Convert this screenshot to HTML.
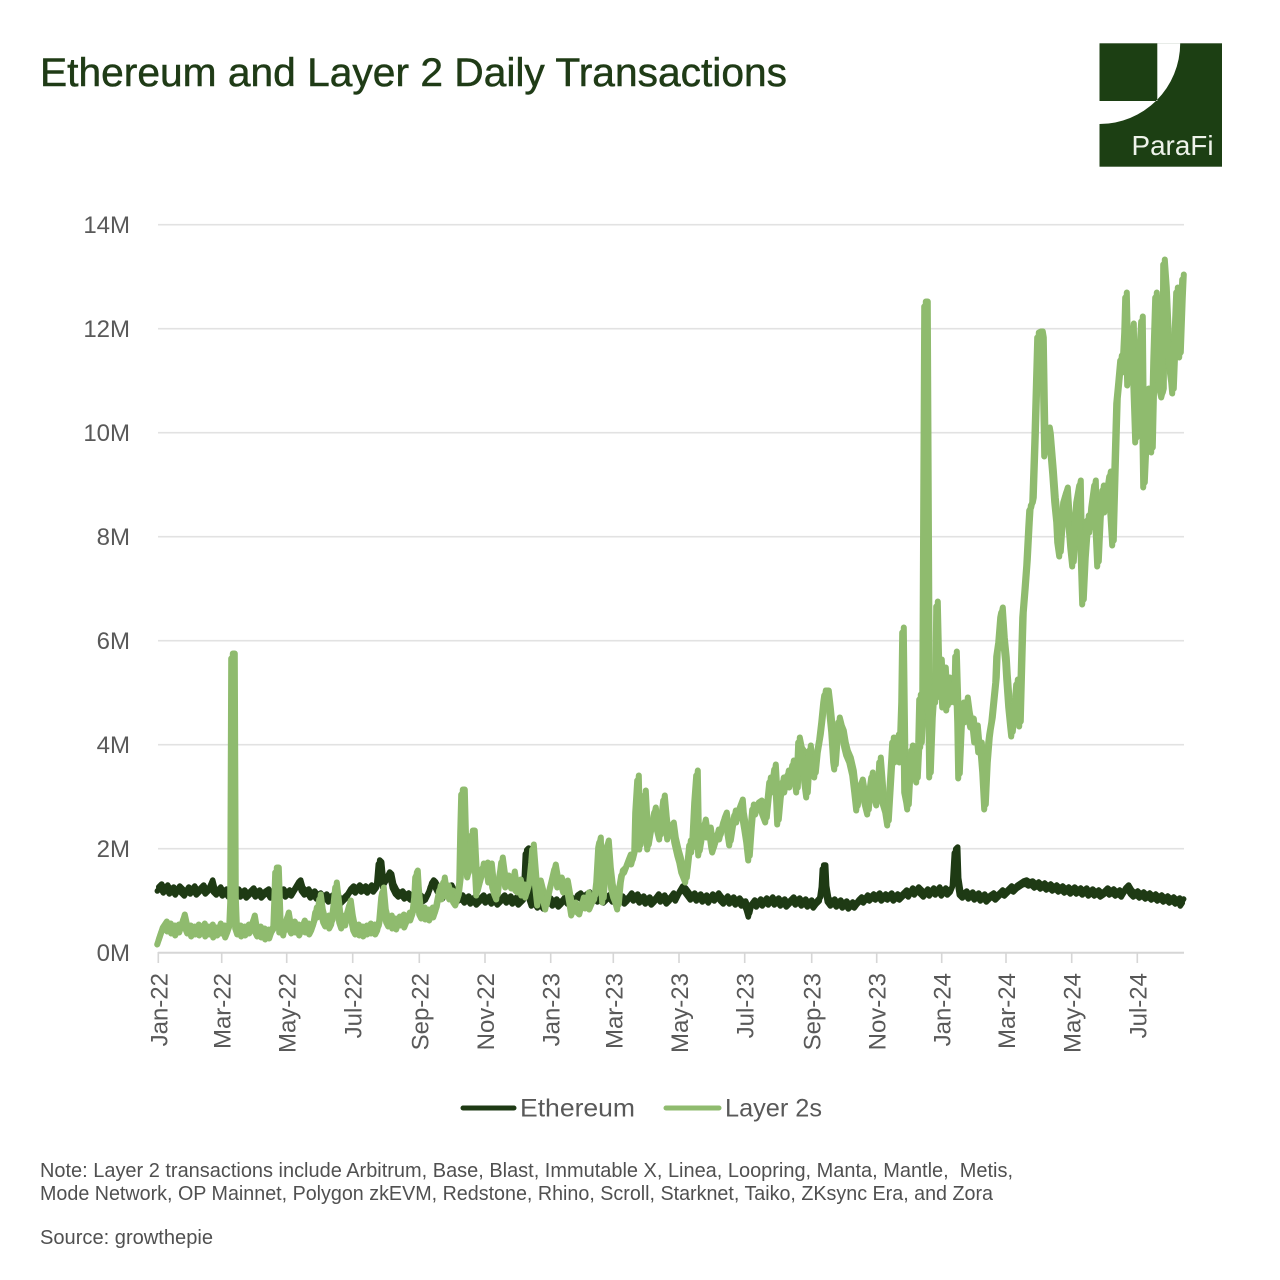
<!DOCTYPE html>
<html>
<head>
<meta charset="utf-8">
<style>
html,body{margin:0;padding:0;background:#ffffff;}
svg{display:block;}
text{font-family:"Liberation Sans",Arial,sans-serif;}
</style>
</head>
<body>
<svg width="1280" height="1280" viewBox="0 0 1280 1280" xmlns="http://www.w3.org/2000/svg">
<defs>
<polyline id="eth" fill="none" stroke="#1e3a14" stroke-width="5.5" stroke-linejoin="round" stroke-linecap="round" points="158,889 161,886 164,891 167,887 170,892 173,889 176,893 179,888 182,891 185,894 188,889 191,892 194,888 197,893 200,890 203,887 206,892 209,889 212,882 214,890 217,893 220,889 223,894 226,891 229,895 232,890 235,894 238,891 241,895 244,892 247,896 250,893 253,890 256,895 259,892 262,896 265,893 268,891 271,896 274,893 277,897 280,894 283,891 286,895 289,892 292,894 295,889 298,884 300,882 302,889 305,893 308,891 311,896 314,893 317,897 320,895 323,899 326,896 329,900 332,897 335,901 338,898 341,902 344,899 347,896 350,891 353,888 356,891 359,887 362,890 365,888 368,891 371,887 374,890 377,886 379,862 381,864 383,885 386,880 389,874 391,876 393,886 396,892 399,895 402,893 405,897 408,895 411,898 414,896 417,899 420,897 423,900 426,898 429,892 431,885 433,882 435,884 438,890 441,894 443,897 446,893 449,889 451,887 453,891 456,896 459,899 462,897 465,901 468,898 471,902 474,899 477,903 480,900 483,897 486,901 489,898 492,902 495,899 498,903 501,900 504,897 507,901 510,898 513,902 516,899 519,903 522,900 524,898 526,852 528,850 530,898 532,904 535,901 538,906 541,903 544,907 547,903 550,900 553,904 556,901 559,905 562,902 565,898 568,902 571,899 574,903 577,897 580,895 583,899 586,896 589,894 592,898 595,895 598,900 601,897 604,901 607,898 610,896 613,900 616,897 619,901 622,898 625,902 628,899 631,895 634,899 637,896 640,901 643,898 646,902 649,899 652,903 655,900 658,896 661,900 664,897 667,902 670,899 673,895 676,899 679,893 682,888 685,890 688,894 691,898 694,895 697,899 700,896 703,900 706,897 709,901 712,896 715,899 718,895 721,899 724,902 727,898 730,902 733,899 736,903 739,900 742,904 745,903 747,908 749,915 751,906 754,902 757,905 760,901 763,904 766,900 769,903 772,899 775,903 778,900 781,904 784,901 787,905 790,902 793,899 796,903 799,900 802,904 805,901 808,905 811,902 814,906 817,902 820,899 822,885 823,867 825,867 826,888 828,900 831,904 834,901 837,905 840,902 843,906 846,903 849,907 852,904 855,906 858,902 861,899 864,901 867,897 870,899 873,896 876,898 879,895 882,899 885,896 888,898 891,895 894,899 897,896 900,898 903,895 906,892 909,895 912,890 915,893 918,889 921,892 924,895 927,891 930,894 933,890 936,893 939,889 942,894 945,890 948,893 951,890 953,885 955,851 957,849 958,880 960,893 963,896 966,893 969,897 972,894 975,898 978,895 981,899 984,896 987,900 990,897 993,895 996,898 999,895 1002,892 1005,894 1008,891 1011,888 1014,890 1017,887 1020,885 1023,883 1026,882 1029,884 1032,883 1035,886 1038,884 1041,887 1044,885 1047,888 1050,886 1053,889 1056,887 1059,890 1062,888 1065,891 1068,889 1071,892 1074,889 1077,892 1080,890 1083,893 1086,890 1089,894 1092,891 1095,894 1098,892 1101,895 1104,893 1107,890 1110,893 1113,891 1116,894 1119,892 1122,895 1125,890 1128,887 1131,892 1134,895 1137,893 1140,896 1143,894 1146,897 1149,895 1152,898 1155,896 1158,899 1161,897 1164,900 1167,898 1170,901 1173,899 1176,902 1179,900 1181,904 1183,901"/>
<polyline id="l2" fill="none" stroke="#8fbb6e" stroke-width="6" stroke-linejoin="round" stroke-linecap="round" points="158,942 160,936 162,930 164,927 166,924 168,929 170,926 172,931 174,928 176,933 178,927 180,930 182,924 184,917 186,926 188,931 190,928 192,934 194,929 196,932 198,927 200,933 202,930 204,926 206,934 208,929 210,932 212,927 214,935 216,930 218,933 220,926 222,931 224,928 226,935 228,930 230,924 231,900 232,656 234,656 235,900 236,926 238,932 240,928 242,934 244,929 246,933 248,927 250,931 252,925 254,918 256,930 258,934 260,929 262,935 264,931 266,937 268,932 270,936 272,930 274,927 275,900 276,870 278,870 279,900 280,930 282,926 284,933 286,922 288,915 290,927 292,931 294,924 296,930 298,927 300,933 302,928 304,923 306,930 308,926 310,932 312,928 314,922 316,910 318,915 320,897 322,912 324,920 326,924 328,918 330,926 332,922 334,905 336,885 338,902 340,920 342,926 344,918 346,923 348,910 350,903 352,918 354,928 356,932 358,927 360,933 362,929 364,934 366,928 368,932 370,926 372,931 374,927 376,932 378,928 380,918 382,895 383,890 385,912 387,920 389,924 391,918 393,926 395,921 397,927 399,919 401,923 403,917 405,925 407,920 409,915 411,918 413,912 415,895 416,875 417,873 418,890 420,912 422,916 424,910 426,917 428,912 430,918 432,910 434,915 436,909 438,898 440,888 442,897 444,880 446,894 448,888 450,897 452,893 454,900 456,903 458,897 460,880 461,830 462,792 464,792 465,830 466,866 468,875 470,867 471,850 472,833 474,833 475,855 477,893 479,885 481,878 483,866 485,870 487,865 489,880 491,866 493,885 495,892 497,897 499,880 501,868 502,860 504,875 506,885 508,878 510,880 512,886 514,874 516,888 518,890 520,882 522,893 524,887 526,895 528,888 530,880 532,860 533,847 534,860 536,885 538,903 540,883 543,895 546,907 549,892 552,880 555,867 558,885 561,880 564,890 567,883 570,900 572,913 575,905 578,910 580,912 583,900 586,906 588,895 590,907 593,900 595,897 597,880 599,845 600,840 601,870 603,900 605,870 606,850 608,843 610,870 612,887 614,895 616,900 618,907 620,885 622,873 625,870 628,862 630,857 632,862 635,850 636,810 638,778 639,820 640,847 642,830 644,810 645,793 647,830 648,847 650,835 652,825 655,810 657,825 660,837 662,815 664,798 666,820 668,837 670,830 673,825 675,840 678,853 680,860 682,870 684,875 686,880 688,862 690,843 692,850 693,840 695,800 697,773 698,830 699,853 702,835 705,822 707,835 710,830 712,845 713,850 716,840 718,832 720,837 722,828 724,820 726,815 728,830 730,843 732,830 735,813 737,820 739,810 742,802 743,815 745,827 747,840 749,858 751,830 753,807 756,812 758,805 761,803 763,812 766,820 768,800 770,780 772,790 775,767 777,800 778,822 780,800 783,780 785,790 788,773 790,785 793,763 795,775 797,790 799,740 801,750 803,753 805,780 807,795 809,760 810,748 812,765 815,775 817,755 820,737 822,720 824,700 825,693 828,693 830,710 832,730 834,760 835,767 837,740 839,720 841,728 843,733 845,745 847,753 850,760 853,773 855,790 857,808 859,790 862,782 865,800 868,812 870,790 872,775 874,790 877,803 879,780 880,760 882,785 883,800 886,810 888,823 890,790 893,740 895,760 898,737 900,760 902,700 903,630 905,790 907,800 908,807 910,770 912,748 914,765 917,780 919,740 920,697 921,745 923,700 925,304 927,304 929,700 930,775 932,720 934,690 936,700 937,604 939,690 941,662 943,705 945,670 947,708 949,680 951,700 953,690 955,700 956,654 958,720 959,776 961,730 963,705 965,720 967,700 969,715 971,725 973,721 975,740 977,728 979,750 981,745 983,770 985,807 987,765 989,740 990,732 992,720 994,700 996,680 997,654 999,640 1001,615 1002,610 1004,640 1006,660 1007,677 1009,705 1011,725 1012,734 1014,715 1016,695 1017,682 1019,705 1020,724 1022,650 1023,615 1025,590 1027,563 1029,525 1030,508 1032,505 1033,500 1035,440 1037,370 1038,335 1040,334 1042,334 1043,340 1044,400 1045,454 1047,440 1049,430 1050,436 1052,460 1053,472 1055,500 1057,520 1058,540 1060,554 1062,525 1064,500 1067,490 1069,520 1071,545 1073,564 1075,530 1077,500 1080,483 1081,540 1083,602 1085,560 1088,518 1090,530 1092,505 1095,483 1096,520 1098,564 1100,520 1103,488 1105,510 1107,495 1110,474 1111,510 1113,543 1115,470 1117,401 1119,380 1121,358 1123,370 1125,330 1126,295 1127,340 1128,383 1130,360 1133,326 1134,380 1136,440 1138,400 1140,350 1142,319 1143,420 1144,485 1146,440 1148,391 1150,420 1152,450 1154,360 1156,295 1158,330 1160,386 1162,395 1163,391 1164,262 1166,290 1168,337 1170,365 1172,380 1173,391 1175,340 1177,290 1179,320 1180,355 1182,300 1183,277"/>
</defs>
<rect width="1280" height="1280" fill="#ffffff"/>

<!-- Title -->
<text x="40" y="86" font-size="40" fill="#1f3b16" stroke="#1f3b16" stroke-width="0.5" textLength="747" lengthAdjust="spacingAndGlyphs">Ethereum and Layer 2 Daily Transactions</text>

<!-- Logo -->
<rect x="1099.5" y="43.3" width="122.5" height="123.4" fill="#1c3f13"/>
<path d="M1157.3,43.3 L1180.2,43.3 A80.7,80.7 0 0 1 1099.5,124 L1099.5,101 L1157.3,101 Z" fill="#ffffff"/>
<text x="1131.5" y="155" font-size="28" fill="#eef3ea" textLength="82" lengthAdjust="spacingAndGlyphs">ParaFi</text>

<!-- Gridlines -->
<g stroke="#e2e2e2" stroke-width="1.6">
<line x1="158" y1="224.7" x2="1184" y2="224.7"/>
<line x1="158" y1="328.7" x2="1184" y2="328.7"/>
<line x1="158" y1="432.7" x2="1184" y2="432.7"/>
<line x1="158" y1="536.7" x2="1184" y2="536.7"/>
<line x1="158" y1="640.7" x2="1184" y2="640.7"/>
<line x1="158" y1="744.7" x2="1184" y2="744.7"/>
<line x1="158" y1="848.7" x2="1184" y2="848.7"/>
</g>
<!-- X axis -->
<line x1="158" y1="952.7" x2="1184" y2="952.7" stroke="#d6d6d6" stroke-width="2"/>
<g stroke="#d6d6d6" stroke-width="1.6">
<line x1="158.3" y1="952" x2="158.3" y2="963"/>
<line x1="221.7" y1="952" x2="221.7" y2="963"/>
<line x1="286.7" y1="952" x2="286.7" y2="963"/>
<line x1="352.7" y1="952" x2="352.7" y2="963"/>
<line x1="419.3" y1="952" x2="419.3" y2="963"/>
<line x1="485" y1="952" x2="485" y2="963"/>
<line x1="550.7" y1="952" x2="550.7" y2="963"/>
<line x1="613.3" y1="952" x2="613.3" y2="963"/>
<line x1="679" y1="952" x2="679" y2="963"/>
<line x1="744.7" y1="952" x2="744.7" y2="963"/>
<line x1="811.7" y1="952" x2="811.7" y2="963"/>
<line x1="876.7" y1="952" x2="876.7" y2="963"/>
<line x1="941.7" y1="952" x2="941.7" y2="963"/>
<line x1="1006" y1="952" x2="1006" y2="963"/>
<line x1="1071.7" y1="952" x2="1071.7" y2="963"/>
<line x1="1137.3" y1="952" x2="1137.3" y2="963"/>
</g>

<!-- Y labels -->
<g font-size="24" fill="#595959" text-anchor="end">
<text x="130" y="233">14M</text>
<text x="130" y="337">12M</text>
<text x="130" y="441">10M</text>
<text x="130" y="545">8M</text>
<text x="130" y="649">6M</text>
<text x="130" y="753">4M</text>
<text x="130" y="857">2M</text>
<text x="130" y="961">0M</text>
</g>

<!-- X labels -->
<g font-size="24" fill="#595959" text-anchor="end">
<text transform="translate(167.3,973) rotate(-90)">Jan-22</text>
<text transform="translate(230.7,973) rotate(-90)">Mar-22</text>
<text transform="translate(295.7,973) rotate(-90)">May-22</text>
<text transform="translate(361.7,973) rotate(-90)">Jul-22</text>
<text transform="translate(428.3,973) rotate(-90)">Sep-22</text>
<text transform="translate(494,973) rotate(-90)">Nov-22</text>
<text transform="translate(559.7,973) rotate(-90)">Jan-23</text>
<text transform="translate(622.3,973) rotate(-90)">Mar-23</text>
<text transform="translate(688,973) rotate(-90)">May-23</text>
<text transform="translate(753.7,973) rotate(-90)">Jul-23</text>
<text transform="translate(820.7,973) rotate(-90)">Sep-23</text>
<text transform="translate(885.7,973) rotate(-90)">Nov-23</text>
<text transform="translate(950.7,973) rotate(-90)">Jan-24</text>
<text transform="translate(1015,973) rotate(-90)">Mar-24</text>
<text transform="translate(1080.7,973) rotate(-90)">May-24</text>
<text transform="translate(1146.3,973) rotate(-90)">Jul-24</text>
</g>

<!-- Ethereum series (thickened band) -->
<use href="#eth" transform="translate(0.7,-2)"/>
<use href="#eth" transform="translate(-0.7,2)"/>
<!-- Layer 2 series (thickened band) -->
<use href="#l2" transform="translate(0.8,-2.5)"/>
<use href="#l2" transform="translate(-0.8,2.5)"/>

<!-- Legend -->
<line x1="463" y1="1108" x2="514" y2="1108" stroke="#1e3a14" stroke-width="5" stroke-linecap="round"/>
<text x="520" y="1116.5" font-size="25" fill="#595959" textLength="115" lengthAdjust="spacingAndGlyphs">Ethereum</text>
<line x1="666" y1="1108" x2="719" y2="1108" stroke="#8fbb6e" stroke-width="5" stroke-linecap="round"/>
<text x="725" y="1116.5" font-size="25" fill="#595959" textLength="97" lengthAdjust="spacingAndGlyphs">Layer 2s</text>

<!-- Notes -->
<g font-size="20" fill="#505050">
<text x="40" y="1177" textLength="973" lengthAdjust="spacingAndGlyphs" xml:space="preserve">Note: Layer 2 transactions include Arbitrum, Base, Blast, Immutable X, Linea, Loopring, Manta, Mantle,  Metis,</text>
<text x="40" y="1200" textLength="953" lengthAdjust="spacingAndGlyphs">Mode Network, OP Mainnet, Polygon zkEVM, Redstone, Rhino, Scroll, Starknet, Taiko, ZKsync Era, and Zora</text>
<text x="40" y="1244" textLength="173" lengthAdjust="spacingAndGlyphs">Source: growthepie</text>
</g>
</svg>
</body>
</html>
